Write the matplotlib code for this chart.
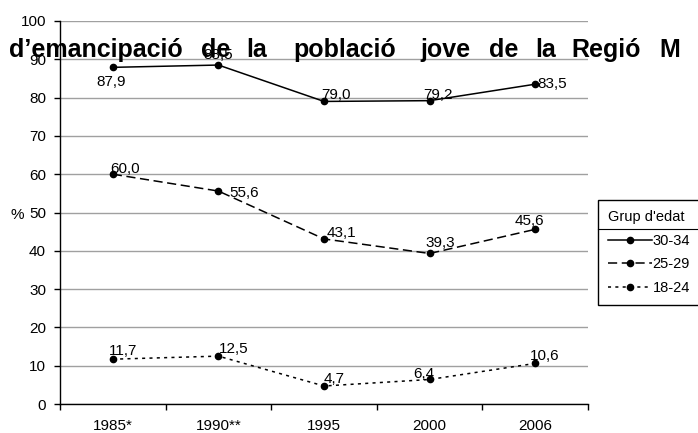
import matplotlib.pyplot as plt
from matplotlib.lines import Line2D
from matplotlib.patches import Rectangle

plt.rcParams['font.family'] = ['Liberation Sans', 'DejaVu Sans']

# dades llegides del grafic
years = ['1985*', '1990**', '1995', '2000', '2006']
grup_30_34 = [87.9, 88.5, 79.0, 79.2, 83.5]
grup_25_29 = [60.0, 55.6, 43.1, 39.3, 45.6]
grup_18_24 = [11.7, 12.5, 4.7, 6.4, 10.6]
series_names = ['30-34', '25-29', '18-24']
title_words = ['d\u2019emancipació', 'de', 'la', 'població', 'jove', 'de', 'la', 'Regió', 'M']

# posicio de les etiquetes (pixels respecte del punt)
off_30 = [(-16, -19), (-15, 6), (-3, 2), (-6, 2), (2, -4)]
off_25 = [(-3, 1), (11, -6), (3, 2), (-4, 6), (-21, 4)]
off_18 = [(-4, 4), (0, 3), (0, 3), (-16, 1), (-5, 3)]

W, H = 698, 433
fig = plt.figure(figsize=(W / 100, H / 100), dpi=100)
ax = fig.add_axes([60 / W, 1 - 404 / H, (588 - 60) / W, (404 - 21) / H])

x = list(range(1, len(years) + 1))
styles = [
    dict(linestyle='-'),
    dict(linestyle=(0, (6, 3))),
    dict(linestyle=(0, (2, 2.8))),
]
series = [grup_30_34, grup_25_29, grup_18_24]
offsets = [off_30, off_25, off_18]

handles = []
for vals, st, offs, name in zip(series, styles, offsets, series_names):
    ln, = ax.plot(x, vals, color='black', lw=1.1, marker='o', markersize=4.5,
                  label=name, **st)
    handles.append(ln)
    for xi, v, (dx, dy) in zip(x, vals, offs):
        ax.annotate(f'{v:.1f}'.replace('.', ','), (xi, v), xytext=(dx, dy),
                    textcoords='offset pixels', ha='left', va='baseline',
                    fontsize=11, color='black')

ax.set_xlim(0.5, 5.5)
ax.set_ylim(0, 100)
ax.set_yticks(range(0, 101, 10))
ax.set_xticks([i + 0.5 for i in range(0, 6)])
ax.set_xticklabels([])
ax.set_xticks(x, minor=True)
ax.set_xticklabels(years, minor=True)
ax.tick_params(axis='x', which='major', direction='out', length=4, width=1)
ax.tick_params(axis='x', which='minor', length=0, pad=11, labelsize=11)
ax.tick_params(axis='y', direction='out', length=4, width=1, pad=6, labelsize=11)

for s in ['top', 'right']:
    ax.spines[s].set_visible(False)
for s in ['left', 'bottom']:
    ax.spines[s].set_color('black')
    ax.spines[s].set_linewidth(1)

ax.yaxis.grid(True, color='#a0a0a0', lw=1)
ax.set_axisbelow(True)

fig.text(17 / W, 1 - 215 / H, '%', ha='center', va='center', fontsize=11)

leg = ax.legend(handles=handles, labels=series_names, title="Grup d'edat",
                loc='upper left', bbox_to_anchor=(598 / W, 1 - 200 / H),
                bbox_transform=fig.transFigure, frameon=False,
                fontsize=10.5, title_fontsize=10.5,
                handlelength=3.0, handletextpad=0.05, labelspacing=0.65,
                borderpad=0.7, borderaxespad=0, alignment='left')

# marc de la llegenda (surt per la dreta) i linia sota el titol
fig.canvas.draw()
bb = leg.get_window_extent()
tb = leg.get_title().get_window_extent()
fig.add_artist(Rectangle((bb.x0 / W, bb.y0 / H), 0.3, (bb.y1 - bb.y0) / H,
                         transform=fig.transFigure, facecolor='white',
                         edgecolor='black', lw=1, zorder=-1))
ysep = (tb.y0 - 5) / H
fig.add_artist(Line2D([bb.x0 / W, 1.0], [ysep, ysep], color='black', lw=0.8,
                      transform=fig.transFigure))

# titol tallat
word_centers = [96, 216, 257, 345, 445, 504, 546, 606, 670]
for w, cx in zip(title_words, word_centers):
    fig.text(cx / W, 1 - 57 / H, w, ha='center', va='baseline', fontsize=18,
             fontweight='bold', color='black', zorder=10)

fig.savefig('out.png', dpi=100)
